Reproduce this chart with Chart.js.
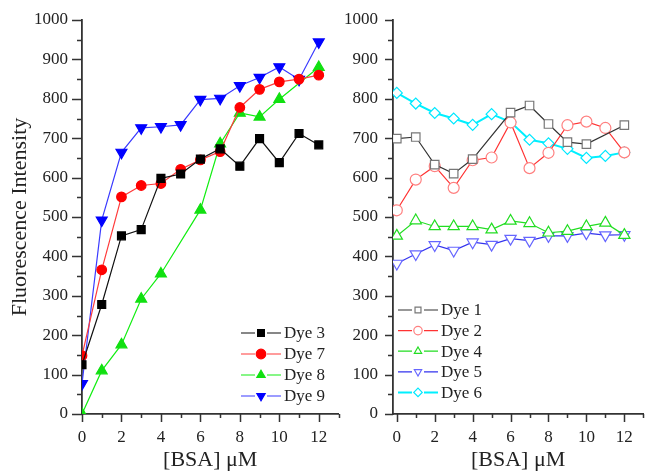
<!DOCTYPE html>
<html>
<head>
<meta charset="utf-8">
<script src="https://cdn.jsdelivr.net/npm/chart.js@4.4.1/dist/chart.umd.min.js"></script>
<style>
  body { margin: 0; background: #fff; overflow: hidden; }
  #wrap { position: relative; width: 646px; height: 473px; }
  #left-chart { position: absolute; left: 0; top: 0; }
  #right-chart { position: absolute; left: 338px; top: 0; }
</style>
</head>
<body>
<div id="wrap">
  <canvas id="left-chart" width="346" height="473"></canvas>
  <canvas id="right-chart" width="313" height="473"></canvas>
</div>
<script>
// Data
const bsa = [0, 1, 2, 3, 4, 5, 6, 7, 8, 9, 10, 11, 12];
const xTickLabels = [0, 2, 4, 6, 8, 10, 12];
const yTickLabels = [0, 100, 200, 300, 400, 500, 600, 700, 800, 900, 1000];

// left panel
const dye3 = [125, 278, 452, 468, 598, 609, 647, 673, 629, 699, 638, 712, 683];
const dye7 = [148, 366, 551, 580, 585, 621, 645, 666, 778, 824, 843, 850, 860];
const dye8 = [0, 110, 176, 292, 356, null, 518, 686, 764, 754, 799, null, 880];
const dye9 = [77, 492, 664, 726, 729, 734, 798, 801, 833, 854, 881, 849, 944];

// right panel
const dye1 = [699, 703, 633, 610, 647, null, 765, 783, 736, 690, 685, null, 733];
const dye2 = [517, 595, 629, 574, 644, 651, 740, 624, 663, 733, 742, 726, 664];
const dye4 = [452, 491, 476, 476, 476, 468, 490, 484, 460, 464, 476, 485, 454];
const dye5 = [382, 406, 429, 415, 436, 430, 445, 440, 452, 452, 459, 454, 455];
const dye6 = [815, 788, 764, 750, 734, 761, 741, 696, 687, 673, 650, 655, 664];

const serif = '"Liberation Serif", "Times New Roman", serif';

function points(arr) {
    return bsa.map((x, i) => ({ x: x, y: arr[i] }));
}

function dataset(label, arr, line, marker, fill, style, radius, rotation, width) {
    return {
        label: label,
        data: points(arr),
        borderColor: line,
        borderWidth: width || 1.2,
        pointStyle: style,
        pointRadius: radius,
        pointRotation: rotation || 0,
        pointBorderColor: marker,
        pointBackgroundColor: fill,
        pointBorderWidth: 1.2,
        spanGaps: true,
        tension: 0
    };
}

// draws the small tick marks and the line-marker-line legend
const panelPlugin = {
    id: 'panel',
    afterDraw(chart, args, opts) {
        const ctx = chart.ctx;
        const area = chart.chartArea;
        const xs = chart.scales.x;
        const ys = chart.scales.y;
        ctx.save();
        ctx.strokeStyle = '#333';
        ctx.lineWidth = 1.5;
        ctx.beginPath();
        for (let v = Math.ceil(xs.min); v <= xs.max + 0.001; v++) {
            const px = Math.round(xs.getPixelForValue(v)) + 0.5;
            const len = v % 2 === 0 ? 8 : 4;
            ctx.moveTo(px, area.bottom);
            ctx.lineTo(px, area.bottom + len);
        }
        for (let v = 0; v <= 1000; v += 50) {
            const py = Math.round(ys.getPixelForValue(v)) + 0.5;
            const len = v % 100 === 0 ? opts.yTick : 5;
            ctx.moveTo(area.left, py);
            ctx.lineTo(area.left - len, py);
        }
        ctx.stroke();

        // legend
        chart.data.datasets.forEach((ds, i) => {
            const y = opts.legendY + i * opts.legendGap;
            const x = opts.legendX;
            ctx.strokeStyle = ds.borderColor;
            ctx.lineWidth = ds.borderWidth;
            ctx.beginPath();
            ctx.moveTo(x, y);
            ctx.lineTo(x + 14, y);
            ctx.moveTo(x + 26, y);
            ctx.lineTo(x + 40, y);
            ctx.stroke();
            ctx.fillStyle = ds.pointBackgroundColor;
            ctx.strokeStyle = ds.pointBorderColor;
            ctx.lineWidth = ds.pointBorderWidth;
            Chart.helpers.drawPoint(ctx, {
                pointStyle: ds.pointStyle,
                radius: opts.legendRadius,
                rotation: ds.pointRotation,
                borderWidth: ds.pointBorderWidth
            }, x + 20, y);
            ctx.fillStyle = '#222';
            ctx.font = '17px ' + serif;
            ctx.textBaseline = 'middle';
            ctx.textAlign = 'left';
            ctx.fillText(ds.label, x + 43, y + 1);
        });
        ctx.restore();
    }
};

function makeOptions(xMin, xMax, yWidth, yTick, yPad, withTitle, legend) {
    return {
        responsive: false,
        animation: false,
        layout: { padding: { top: 20, right: 0, left: 0, bottom: 0 } },
        plugins: {
            legend: { display: false },
            tooltip: { enabled: false },
            panel: Object.assign({ yTick: yTick }, legend)
        },
        scales: {
            x: {
                type: 'linear',
                min: xMin,
                max: xMax,
                afterBuildTicks: s => { s.ticks = xTickLabels.map(v => ({ value: v })); },
                afterFit: s => { s.height = 59; },
                grid: { display: true, drawOnChartArea: false, drawTicks: true, tickLength: 8, tickColor: 'rgba(0,0,0,0)' },
                border: { display: true, color: '#333', width: 1.8 },
                ticks: { padding: 5, color: '#222', font: { family: serif, size: 17 }, maxRotation: 0, callback: v => String(v) },
                title: { display: true, text: '[BSA] μM', color: '#222', font: { family: serif, size: 22 }, padding: { top: 0, bottom: 0 } }
            },
            y: {
                type: 'linear',
                min: 0,
                max: 1000,
                afterBuildTicks: s => { s.ticks = yTickLabels.map(v => ({ value: v })); },
                afterFit: s => { s.width = yWidth; },
                grid: { display: true, drawOnChartArea: false, drawTicks: true, tickLength: yTick, tickColor: 'rgba(0,0,0,0)' },
                border: { display: true, color: '#333', width: 1.8 },
                ticks: { padding: yPad, color: '#222', font: { family: serif, size: 17 }, callback: v => String(v) },
                title: { display: withTitle, text: 'Fluorescence Intensity', color: '#222', font: { family: serif, size: 22 }, padding: { top: 7, bottom: 0 } }
            }
        }
    };
}

// Left chart
new Chart(document.getElementById('left-chart'), {
    type: 'line',
    data: {
        datasets: [
            dataset('Dye 3', dye3, '#111', '#000', '#000', 'rect', 5.6),
            dataset('Dye 7', dye7, '#ff3b3b', '#ff0000', '#ff0000', 'circle', 4.8),
            dataset('Dye 8', dye8, '#11ee11', '#11e011', '#11e011', 'triangle', 6.3),
            dataset('Dye 9', dye9, '#3a3aff', '#0000ff', '#0000ff', 'triangle', 6.3, 180)
        ]
    },
    options: makeOptions(0, 13, 82, 10, 4, true, { legendX: 241, legendY: 333, legendGap: 21, legendRadius: 4.8 }),
    plugins: [panelPlugin]
});

// Right chart
new Chart(document.getElementById('right-chart'), {
    type: 'line',
    data: {
        datasets: [
            dataset('Dye 1', dye1, '#333', '#777', '#fff', 'rect', 6),
            dataset('Dye 2', dye2, '#ff3333', '#ff8080', '#fff', 'circle', 5.5),
            dataset('Dye 4', dye4, '#22dd22', '#22dd22', '#fff', 'triangle', 6.5),
            dataset('Dye 5', dye5, '#3333ee', '#6666ff', '#fff', 'triangle', 6.5, 180),
            dataset('Dye 6', dye6, '#00f0ff', '#00e8ff', '#fff', 'rectRot', 5.5, 0, 2)
        ]
    },
    options: makeOptions(-0.2, 13, 55, 8, 7, false, { legendX: 60, legendY: 310, legendGap: 20.6, legendRadius: 4.2 }),
    plugins: [panelPlugin]
});
</script>
</body>
</html>
